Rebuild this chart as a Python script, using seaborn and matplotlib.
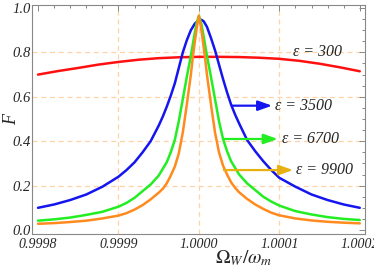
import numpy as np
import pandas as pd
import matplotlib
matplotlib.use("Agg")
import matplotlib.pyplot as plt
import seaborn as sns

# ---- data (detuning in units of 1e-5 around Omega_W/omega_m = 1) ----
red_off = [-20, -17.5, -15, -12.5, -10, -7.5, -5, -2.5, 0, 2.5, 5, 7.5, 10, 12.5, 15, 17.5, 20]
red_F = [0.700, 0.716, 0.730, 0.745, 0.757, 0.767, 0.774, 0.778, 0.780, 0.780, 0.779, 0.776,
         0.771, 0.762, 0.749, 0.733, 0.715]

blue_off = [-20, -18, -16, -14, -12, -10, -9, -8, -7, -6, -5, -4.5, -4, -3.5, -3, -2.5, -2,
            -1.5, -1, -0.5, 0, 0.3, 0.6, 1, 1.5, 2, 2.5, 3, 3.5, 4, 4.5, 5, 6, 7, 8, 9, 10,
            12, 14, 16, 18, 20]
blue_F = [0.100, 0.115, 0.135, 0.160, 0.195, 0.240, 0.270, 0.305, 0.350, 0.400, 0.470, 0.510,
          0.555, 0.605, 0.660, 0.730, 0.800, 0.855, 0.900, 0.930, 0.945, 0.947, 0.940, 0.915,
          0.865, 0.810, 0.745, 0.680, 0.620, 0.565, 0.520, 0.480, 0.405, 0.355, 0.310, 0.270,
          0.235, 0.195, 0.160, 0.135, 0.115, 0.100]

green_off = [-20, -18, -16, -14, -12, -10, -9, -8, -7, -6, -5, -4, -3.5, -3, -2.5, -2, -1.5,
             -1, -0.6, -0.3, 0, 0.3, 0.6, 1, 1.5, 2, 2.5, 3, 3.5, 4, 5, 6, 7, 8, 9, 10, 12,
             14, 16, 18, 20]
green_F = [0.042, 0.048, 0.056, 0.068, 0.082, 0.105, 0.122, 0.145, 0.175, 0.205, 0.245, 0.305,
           0.350, 0.405, 0.490, 0.590, 0.690, 0.785, 0.870, 0.930, 0.965, 0.930, 0.870, 0.785,
           0.690, 0.590, 0.490, 0.410, 0.355, 0.310, 0.250, 0.210, 0.180, 0.150, 0.128, 0.110,
           0.085, 0.070, 0.058, 0.050, 0.045]

orange_off = [-20, -18, -16, -14, -12, -10, -9, -8, -7, -6, -5, -4.5, -4, -3.5, -3, -2.5, -2,
              -1.6, -1.3, -1, -0.75, -0.5, -0.25, 0, 0.25, 0.5, 0.75, 1, 1.3, 1.6, 2, 2.5, 3,
              3.5, 4, 4.5, 5, 6, 7, 8, 9, 10, 12, 14, 16, 18, 20]
orange_F = [0.028, 0.031, 0.036, 0.042, 0.052, 0.065, 0.076, 0.092, 0.112, 0.138, 0.168, 0.185,
            0.210, 0.245, 0.285, 0.345, 0.440, 0.540, 0.620, 0.700, 0.780, 0.850, 0.915, 0.965,
            0.915, 0.850, 0.780, 0.700, 0.620, 0.540, 0.440, 0.350, 0.290, 0.250, 0.215, 0.190,
            0.170, 0.140, 0.115, 0.095, 0.078, 0.066, 0.052, 0.043, 0.037, 0.033, 0.030]

series_names = ["ε = 300", "ε = 3500", "ε = 6700", "ε = 9900"]
x_ticks = [0.9998, 0.9999, 1.0000, 1.0001, 1.0002]
x_ticklabels = ["0.9998", "0.9999", "1.0000", "1.0001", "1.0002"]
y_ticks = [0.0, 0.2, 0.4, 0.6, 0.8, 1.0]
y_ticklabels = ["0.0", "0.2", "0.4", "0.6", "0.8", "1.0"]
grid_x = [0.9999, 1.0000, 1.0001]
grid_y = [0.2, 0.4, 0.6, 0.8]

colors = {"ε = 300": "#FF1010", "ε = 3500": "#1515F0", "ε = 6700": "#22EE22", "ε = 9900": "#FF8A1E"}
arrow_colors = {"ε = 300": "#FF1010", "ε = 3500": "#1515F0", "ε = 6700": "#22EE22", "ε = 9900": "#E8B010"}

frames = []
for name, off, F in zip(series_names,
                        [red_off, blue_off, green_off, orange_off],
                        [red_F, blue_F, green_F, orange_F]):
    frames.append(pd.DataFrame({"x": 1.0 + np.array(off) * 1e-5, "F": F, "series": name}))
df = pd.concat(frames, ignore_index=True)

sns.set_theme(style="white")
plt.rcParams["font.family"] = ["Liberation Serif", "DejaVu Serif"]
plt.rcParams["mathtext.fontset"] = "stix"

fig = plt.figure(figsize=(3.74, 2.74), dpi=100)
ax = fig.add_axes([32 / 374, 40 / 274, (365 - 32) / 374, (234 - 5) / 274])

for gx in grid_x:
    ax.axvline(gx, color="#FFD2A8", lw=0.9, ls=(0, (4, 3)), zorder=0)
for gy in grid_y:
    ax.axhline(gy, color="#FFD2A8", lw=0.9, ls=(0, (4, 3)), zorder=0)

sns.lineplot(data=df, x="x", y="F", hue="series", palette=colors, hue_order=series_names,
             lw=1.8, legend=False, ax=ax, sort=True, estimator=None)
for ln in ax.lines:
    ln.set_solid_joinstyle("round")

ax.set_xlim(1 - 20.75e-5, 1 + 20.65e-5)
ax.set_ylim(-0.018, 1.0135)
ax.set_xticks(x_ticks)
ax.set_xticklabels(x_ticklabels, fontstyle="italic", fontsize=10)
ax.set_yticks(y_ticks)
ax.set_yticklabels(y_ticklabels, fontstyle="italic", fontsize=10.5)
ax.xaxis.set_minor_locator(matplotlib.ticker.MultipleLocator(2e-5))
ax.yaxis.set_minor_locator(matplotlib.ticker.MultipleLocator(0.05))
ax.tick_params(which="both", direction="in", top=True, right=True, color="#888888",
               width=0.7)
ax.tick_params(which="major", length=4)
ax.tick_params(which="minor", length=2)
ax.tick_params(axis="x", pad=3)
ax.tick_params(axis="y", pad=1)
for s in ax.spines.values():
    s.set_color("#888888")
    s.set_linewidth(0.8)

ax.set_xlabel(r"$\mathit{\Omega}_{W}/\omega_{m}$", fontsize=14)
ax.xaxis.label.set_va("center")
ax.xaxis.set_label_coords(0.635, -0.105)
ax.set_ylabel("F", fontstyle="italic", fontsize=13)
ax.yaxis.set_label_coords(-0.035, 0.5)

# annotations
ax.text(1 + 11.7e-5, 0.80, series_names[0], fontstyle="italic", fontsize=11.5, va="center",
        ha="left")
ann = [(series_names[1], 4.1, 9.1, 9.45, 0.56),
       (series_names[2], 3.0, 9.8, 10.3, 0.41),
       (series_names[3], 3.1, 11.7, 12.05, 0.27)]
for name, x0, x1, xt, y in ann:
    ax.annotate("", xy=(1 + x1 * 1e-5, y), xytext=(1 + x0 * 1e-5, y),
                arrowprops=dict(arrowstyle="-|>,head_length=0.7,head_width=0.25",
                                color=arrow_colors[name], lw=1.6, shrinkA=0, shrinkB=0))
    ax.text(1 + xt * 1e-5, y, name, fontstyle="italic", fontsize=11.5, va="center", ha="left")

fig.savefig("out.png", dpi=100)
